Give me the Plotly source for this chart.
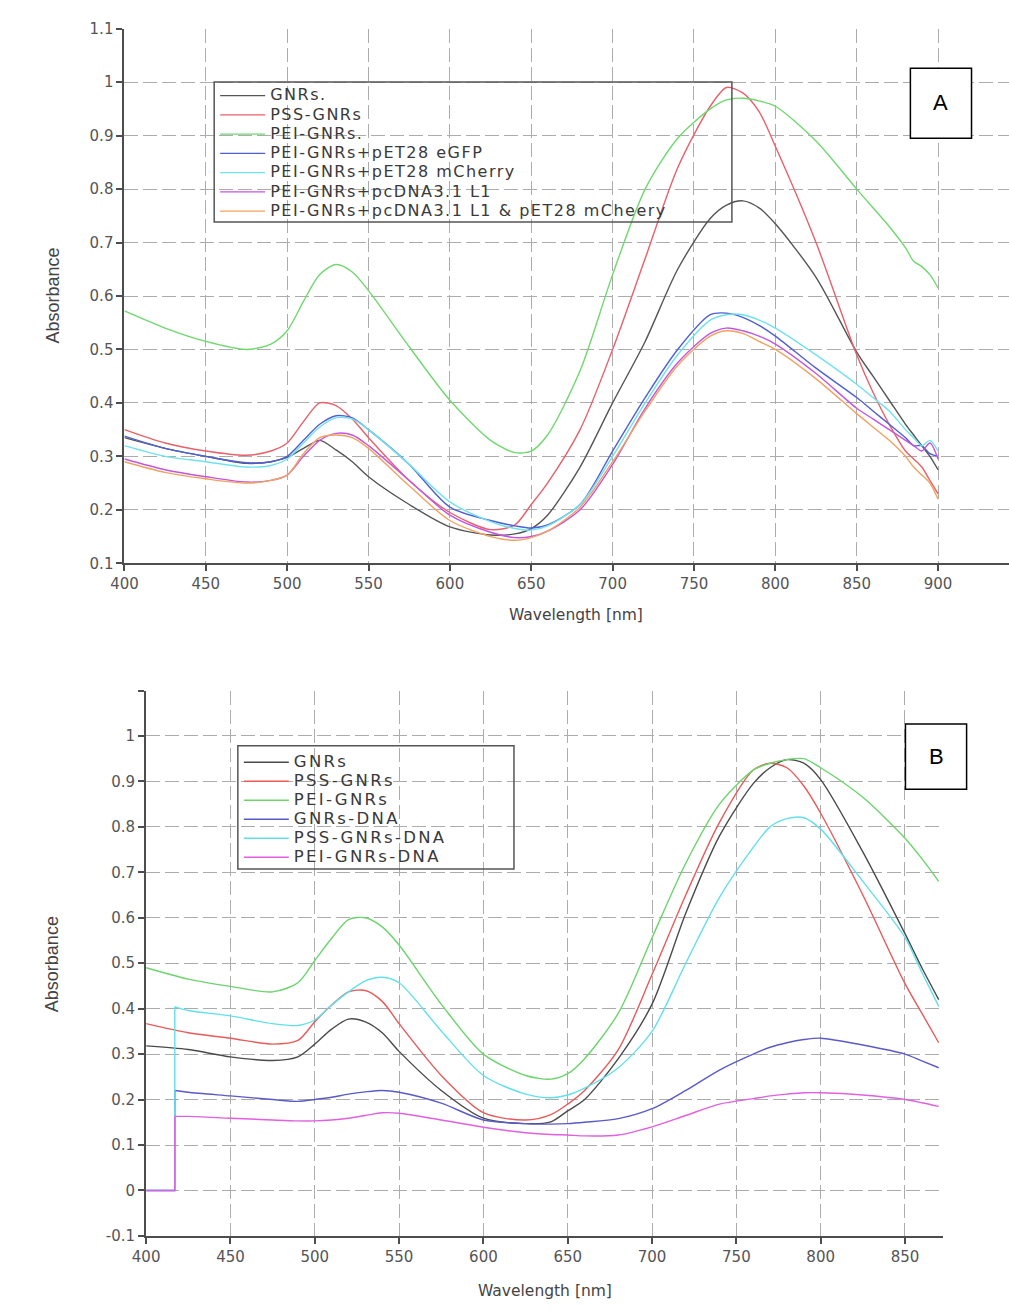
import plotly.graph_objects as go

W, H = 1009, 1310

# ---------------- Panel A data ----------------
wl_a = [400, 425, 450, 475, 490, 500, 510, 520, 530, 540, 550, 575, 600, 625, 640, 650, 660, 680,
        700, 720, 740, 760, 770, 780, 790, 800, 825, 850, 860, 870, 880, 885, 890, 895, 900]

a_gnrs = [.335, .315, .300, .287, .290, .298, .315, .330, .312, .290, .262, .210, .168, .153, .155, .165, .190, .280,
          .400, .515, .650, .745, .770, .778, .765, .735, .635, .495, .450, .405, .360, .340, .320, .300, .275]
a_pss = [.350, .325, .310, .302, .310, .325, .365, .400, .395, .370, .335, .255, .195, .163, .172, .210, .250, .350,
         .500, .670, .840, .955, .990, .980, .945, .880, .700, .490, .420, .360, .310, .295, .280, .255, .230]
a_pei = [.572, .540, .515, .500, .510, .535, .590, .640, .659, .645, .610, .505, .405, .330, .307, .310, .340, .460,
         .640, .800, .895, .950, .967, .970, .965, .955, .890, .800, .765, .730, .690, .665, .655, .640, .615]
a_egfp = [.338, .315, .300, .288, .290, .300, .330, .360, .376, .372, .350, .285, .205, .180, .170, .166, .172, .210,
          .310, .410, .500, .565, .568, .560, .545, .525, .465, .410, .385, .360, .335, .320, .320, .305, .300]
a_mcherry = [.320, .300, .290, .280, .283, .295, .325, .355, .372, .370, .350, .285, .215, .178, .165, .162, .170, .210,
             .300, .400, .490, .555, .565, .565, .555, .540, .490, .435, .410, .385, .350, .335, .320, .330, .310]
a_l1 = [.295, .275, .262, .252, .255, .265, .300, .330, .343, .340, .320, .255, .190, .158, .148, .150, .160, .200,
        .285, .390, .475, .530, .540, .535, .525, .510, .455, .390, .370, .350, .330, .320, .310, .325, .295]
a_l1_mch = [.290, .270, .258, .250, .255, .265, .305, .335, .340, .335, .315, .245, .180, .150, .143, .148, .160, .205,
            .290, .385, .470, .525, .535, .530, .515, .500, .445, .380, .355, .330, .300, .280, .265, .250, .220]

names_a = ["GNRs.", "PSS-GNRs", "PEI-GNRs.", "PEI-GNRs+pET28 eGFP", "PEI-GNRs+pET28 mCherry",
           "PEI-GNRs+pcDNA3.1 L1", "PEI-GNRs+pcDNA3.1 L1 & pET28 mCheery"]
colors_a = ["#555555", "#e8606a", "#6fd86f", "#4f5fd8", "#6ee2ee", "#c455e0", "#f2a25e"]
series_a = [a_gnrs, a_pss, a_pei, a_egfp, a_mcherry, a_l1, a_l1_mch]

xticks_a = [400, 450, 500, 550, 600, 650, 700, 750, 800, 850, 900]
yticks_a = [0.1, 0.2, 0.3, 0.4, 0.5, 0.6, 0.7, 0.8, 0.9, 1.0, 1.1]
ytext_a = ["0.1", "0.2", "0.3", "0.4", "0.5", "0.6", "0.7", "0.8", "0.9", "1", "1.1"]

# ---------------- Panel B data ----------------
wl_b = [400, 425, 450, 475, 490, 500, 510, 520, 530, 540, 550, 575, 600, 625, 640, 650, 660, 680,
        700, 720, 740, 760, 770, 780, 790, 800, 825, 850, 860, 870]
b_gnrs = [.318, .310, .294, .286, .294, .322, .355, .377, .371, .347, .306, .220, .159, .147, .151, .175, .200, .290,
          .410, .610, .780, .895, .930, .948, .940, .904, .745, .565, .490, .420]
b_pss = [.367, .347, .335, .322, .330, .371, .408, .437, .440, .416, .367, .253, .171, .155, .167, .190, .220, .310,
         .475, .650, .810, .925, .940, .930, .890, .830, .650, .455, .390, .325]
b_pei = [.490, .465, .449, .437, .457, .506, .555, .596, .600, .580, .540, .410, .300, .253, .245, .257, .290, .390,
         .556, .720, .850, .925, .940, .948, .950, .930, .865, .775, .730, .680]

wl_b_dna = [417, 425, 450, 475, 490, 500, 510, 520, 530, 540, 550, 575, 600, 625, 640, 650, 660, 680,
            700, 720, 740, 760, 770, 780, 790, 800, 825, 850, 860, 870]
b_gnrs_dna = [.220, .216, .208, .200, .196, .200, .205, .212, .217, .220, .216, .192, .155, .147, .146, .147, .150, .158,
              .180, .220, .265, .300, .315, .325, .332, .335, .320, .300, .285, .270]
b_pss_dna = [.404, .396, .384, .367, .363, .375, .408, .437, .461, .469, .457, .351, .253, .212, .204, .210, .225, .270,
             .350, .500, .645, .755, .800, .818, .820, .795, .680, .557, .480, .405]
b_pei_dna = [.163, .163, .159, .155, .153, .153, .155, .159, .165, .171, .170, .155, .139, .127, .123, .122, .120, .122,
             .140, .165, .190, .202, .208, .212, .215, .215, .210, .200, .193, .185]
# baseline before the detector step (400-417 nm)
wl_b_step = [400, 417]
b_step_level = 0.0

names_b = ["GNRs", "PSS-GNRs", "PEI-GNRs", "GNRs-DNA", "PSS-GNRs-DNA", "PEI-GNRs-DNA"]
colors_b = ["#4a4a4a", "#e85a5a", "#6cd46c", "#5a5ac8", "#62e0ea", "#e060e0"]

xticks_b = [400, 450, 500, 550, 600, 650, 700, 750, 800, 850]
yticks_b = [-0.1, 0, 0.1, 0.2, 0.3, 0.4, 0.5, 0.6, 0.7, 0.8, 0.9, 1.0, 1.1]
ytext_b = ["-0.1", "0", "0.1", "0.2", "0.3", "0.4", "0.5", "0.6", "0.7", "0.8", "0.9", "1", ""]


def legend_label(text, size, spacing):
    # wide legend lettering like the original instrument export
    return '<span style="font-size:%spx;letter-spacing:%spx">%s</span>' % (size, spacing, text)


# ---------------- figure ----------------
fig = go.Figure()

for name, col, ys in zip(names_a, colors_a, series_a):
    fig.add_trace(go.Scatter(x=wl_a, y=ys, name=legend_label(name, 16, 1.5), mode="lines",
                             line=dict(color=col, width=1.4, shape="spline", smoothing=0.8),
                             xaxis="x", yaxis="y", legend="legend"))

for name, col, ys in zip(names_b[:3], colors_b[:3], [b_gnrs, b_pss, b_pei]):
    fig.add_trace(go.Scatter(x=wl_b, y=ys, name=legend_label(name, 16.5, 2.3), mode="lines",
                             line=dict(color=col, width=1.4, shape="spline", smoothing=0.8),
                             xaxis="x2", yaxis="y2", legend="legend2"))

for name, col, ys in zip(names_b[3:], colors_b[3:], [b_gnrs_dna, b_pss_dna, b_pei_dna]):
    fig.add_trace(go.Scatter(x=wl_b_dna, y=ys, name=legend_label(name, 16.5, 2.3), mode="lines",
                             legendgroup=name,
                             line=dict(color=col, width=1.4, shape="spline", smoothing=0.8),
                             xaxis="x2", yaxis="y2", legend="legend2"))
    fig.add_trace(go.Scatter(x=wl_b_step, y=[b_step_level, ys[0]], mode="lines", legendgroup=name,
                             showlegend=False, line=dict(color=col, width=1.4, shape="hv"),
                             xaxis="x2", yaxis="y2", legend="legend2"))

tickfont = dict(family="DejaVu Sans", size=15, color="#555555")
common = dict(showline=True, linecolor="#4d4d4d", linewidth=2, ticks="outside", ticklen=6,
              tickwidth=1.5, tickcolor="#4d4d4d", showgrid=True, gridcolor="#acacac", gridwidth=1.2,
              griddash="14px,5px", zeroline=False, tickfont=tickfont, fixedrange=True)


def px(x):
    return x / W


def py(y):
    return 1 - y / H


fig.update_layout(
    width=W, height=H, margin=dict(l=0, r=0, t=0, b=0), autosize=False,
    paper_bgcolor="white", plot_bgcolor="white", showlegend=True,
    xaxis=dict(domain=[px(112), 1.0], range=[400, 943.6], tickvals=xticks_a, anchor="y", **common),
    yaxis=dict(domain=[py(562), py(20)], range=[0.1, 1.1], tickvals=yticks_a, ticktext=ytext_a,
               anchor="x", **common),
    xaxis2=dict(domain=[px(134), px(942)], range=[400, 872.5], tickvals=xticks_b, anchor="y2", **common),
    yaxis2=dict(domain=[py(1244), py(691)], range=[-0.1, 1.1], tickvals=yticks_b, ticktext=ytext_b,
                anchor="x2", **common),
    legend=dict(x=px(204), y=py(73), xanchor="left", yanchor="top", bgcolor="rgba(0,0,0,0)",
                borderwidth=0, itemwidth=45, tracegroupgap=0,
                font=dict(family="DejaVu Sans", size=12.5, color="#3a3a3a")),
    legend2=dict(x=px(228), y=py(749), xanchor="left", yanchor="top", bgcolor="rgba(0,0,0,0)",
                 borderwidth=0, itemwidth=45, tracegroupgap=0,
                 font=dict(family="DejaVu Sans", size=12.3, color="#3a3a3a")),
)

shapes = [
    # legend frames
    dict(type="rect", xref="paper", yref="paper", x0=px(203), x1=px(728), y0=py(216), y1=py(74),
         line=dict(color="#555555", width=1.5), fillcolor="rgba(0,0,0,0)", layer="above"),
    dict(type="rect", xref="paper", yref="paper", x0=px(227), x1=px(507), y0=py(872), y1=py(747),
         line=dict(color="#555555", width=1.5), fillcolor="rgba(0,0,0,0)", layer="above"),
    # panel label boxes
    dict(type="rect", xref="paper", yref="paper", x0=px(909), x1=px(971), y0=py(131), y1=py(60),
         line=dict(color="black", width=1.5), fillcolor="white", layer="above"),
    dict(type="rect", xref="paper", yref="paper", x0=px(904), x1=px(966), y0=py(791), y1=py(725),
         line=dict(color="black", width=1.5), fillcolor="white", layer="above"),
]
fig.update_layout(shapes=shapes)

title_font = dict(family="Liberation Sans Narrow, Liberation Sans, Arial", size=18, color="#444444")
xt_font = dict(family="DejaVu Sans", size=15.5, color="#444444")
ann = [
    dict(text="A", x=px(940), y=py(95), font=dict(family="Liberation Sans", size=22, color="black")),
    dict(text="B", x=px(935), y=py(758), font=dict(family="Liberation Sans", size=22, color="black")),
    dict(text="Absorbance", x=px(40), y=py(290), textangle=-90, font=title_font),
    dict(text="Absorbance", x=px(38), y=py(968), textangle=-90, font=title_font),
    dict(text="Wavelength [nm]", x=px(570), y=py(614), font=xt_font),
    dict(text="Wavelength [nm]", x=px(538), y=py(1300), font=xt_font),
]
for a in ann:
    a.update(xref="paper", yref="paper", showarrow=False, xanchor="center", yanchor="middle")
fig.update_layout(annotations=ann)

fig.write_html("out.html", config={"displayModeBar": False},
               post_script="document.body.style.margin='0px';document.body.style.overflow='hidden';")
